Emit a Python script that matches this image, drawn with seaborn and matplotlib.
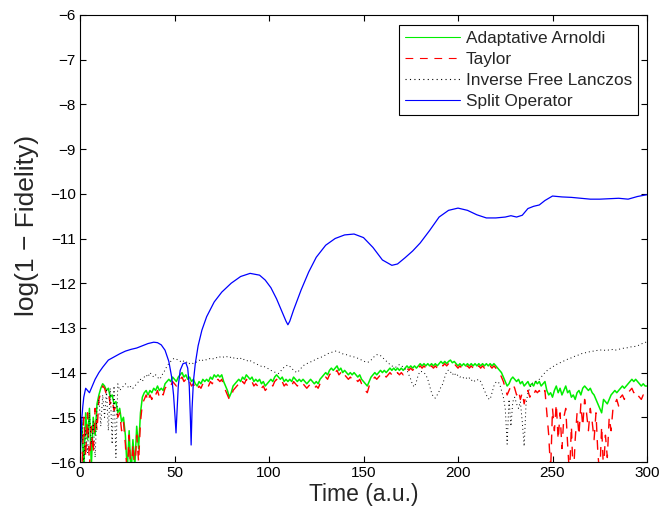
import numpy as np
import matplotlib
matplotlib.use("Agg")
import matplotlib.pyplot as plt
import seaborn as sns

# ---------------- data ----------------
time_grid = list(range(0, 301))

arnoldi = [
    -15.8, -15.1, -16.2, -14.9, -15.5, -14.8, -16.1, -15.0, -15.4, -14.7,
    -14.5, -14.35, -14.25, -14.3, -14.4, -14.35, -14.55, -14.5, -14.7, -14.65,
    -14.9, -14.8, -15.1, -15.0, -15.4, -16.2, -15.3, -16.3, -15.5, -16.1,
    -15.2, -15.7, -14.9, -14.55, -14.45, -14.4, -14.5, -14.4, -14.45, -14.35,
    -14.4, -14.3, -14.4, -14.35, -14.4, -14.25, -14.2, -14.15, -14.2, -14.1,
    -14.15, -14.2, -14.1, -14.05, -14.0, -14.1, -14.05, -14.15, -14.1, -14.2,
    -14.15, -14.25, -14.3, -14.2, -14.25, -14.15, -14.2, -14.15, -14.2, -14.1,
    -14.15, -14.05, -14.1, -14.05, -14.1, -14.05, -14.2, -14.3, -14.4, -14.55,
    -14.45, -14.3, -14.25, -14.2, -14.15, -14.2, -14.1, -14.15, -14.05, -14.1,
    -14.15, -14.1, -14.2, -14.15, -14.2, -14.15, -14.25, -14.2, -14.3, -14.25,
    -14.2, -14.15, -14.2, -14.1, -14.05, -14.1, -14.15, -14.1, -14.2, -14.15,
    -14.2, -14.15, -14.2, -14.1, -14.15, -14.2, -14.15, -14.2, -14.15, -14.2,
    -14.25, -14.2, -14.15, -14.2, -14.25, -14.2, -14.25, -14.15, -14.1, -14.05,
    -14.0, -14.05, -13.95, -13.9, -13.95, -13.9, -13.85, -13.95, -13.9, -14.0,
    -13.95, -14.0, -14.05, -14.0, -14.05, -14.0, -14.05, -14.1, -14.05, -14.15,
    -14.2, -14.25, -14.3, -14.2, -14.1, -14.05, -14.0, -14.05, -14.0, -13.95,
    -14.0, -13.95, -14.0, -13.95, -13.9, -13.95, -13.9, -13.95, -13.9, -13.95,
    -13.9, -13.95, -13.9, -13.85, -13.9, -13.85, -13.9, -13.85, -13.9, -13.85,
    -13.8, -13.85, -13.8, -13.85, -13.8, -13.85, -13.8, -13.85, -13.8, -13.85,
    -13.8, -13.75, -13.8, -13.75, -13.8, -13.75, -13.72, -13.78, -13.75, -13.8,
    -13.85, -13.8, -13.85, -13.8, -13.85, -13.8, -13.85, -13.8, -13.85, -13.8,
    -13.85, -13.8, -13.85, -13.8, -13.85, -13.8, -13.85, -13.8, -13.85, -13.8,
    -13.85, -13.9, -13.95, -14.0, -14.1, -14.2, -14.3, -14.25, -14.15, -14.1,
    -14.15, -14.2, -14.15, -14.25, -14.2, -14.3, -14.25, -14.2, -14.3, -14.25,
    -14.3, -14.2, -14.25, -14.2, -14.3, -14.25, -14.2, -14.4, -14.5, -14.45,
    -14.55, -14.4, -14.3, -14.45, -14.35, -14.5, -14.4, -14.3, -14.45, -14.4,
    -14.55, -14.5, -14.6, -14.45, -14.4, -14.5, -14.35, -14.3, -14.35, -14.4,
    -14.35, -14.45, -14.5, -14.6, -14.7, -14.8, -14.9, -14.6, -14.65, -14.7,
    -14.6, -14.5, -14.45, -14.4, -14.45, -14.4, -14.35, -14.3, -14.35, -14.3,
    -14.25, -14.2, -14.15, -14.2, -14.15, -14.2, -14.25, -14.3, -14.25, -14.3,
    -14.3,
]

taylor = [
    -15.6, -16.2, -15.0, -15.9, -14.9, -16.1, -15.2, -15.8, -14.8, -15.3,
    -14.6, -14.45, -14.3, -14.35, -14.5, -14.45, -14.7, -14.6, -14.85, -14.75,
    -15.0, -14.9, -15.3, -15.1, -15.6, -16.3, -15.4, -16.4, -15.6, -16.2,
    -15.4, -16.0, -15.1, -14.7, -14.6, -14.5, -14.65, -14.5, -14.6, -14.45,
    -14.5, -14.4, -14.55, -14.45, -14.5, -14.35, -14.3, -14.25, -14.3, -14.2,
    -14.25, -14.3, -14.2, -14.15, -14.1, -14.2, -14.15, -14.25, -14.2, -14.3,
    -14.25, -14.35, -14.4, -14.3, -14.35, -14.25, -14.3, -14.25, -14.3, -14.2,
    -14.25, -14.15, -14.2, -14.15, -14.2, -14.15, -14.3, -14.4, -14.5, -14.6,
    -14.55, -14.4, -14.35, -14.3, -14.25, -14.3, -14.2, -14.25, -14.15, -14.2,
    -14.25, -14.2, -14.3, -14.25, -14.3, -14.25, -14.35, -14.3, -14.4, -14.35,
    -14.3, -14.25, -14.3, -14.2, -14.15, -14.2, -14.25, -14.2, -14.3, -14.25,
    -14.3, -14.25, -14.3, -14.2, -14.25, -14.3, -14.25, -14.3, -14.25, -14.3,
    -14.35, -14.3, -14.25, -14.3, -14.35, -14.3, -14.35, -14.25, -14.2, -14.15,
    -14.1, -14.15, -14.05, -14.0, -14.05, -14.0, -13.95, -14.05, -14.0, -14.1,
    -14.05, -14.1, -14.15, -14.1, -14.15, -14.1, -14.15, -14.2, -14.15, -14.25,
    -14.3, -14.4, -14.45, -14.3, -14.2, -14.15, -14.1, -14.15, -14.1, -14.05,
    -14.1, -14.05, -14.1, -14.05, -14.0, -14.05, -14.0, -14.05, -14.0, -14.05,
    -14.0, -14.05, -13.95, -13.9, -13.95, -13.9, -13.95, -13.9, -13.95, -13.9,
    -13.85, -13.9, -13.85, -13.9, -13.85, -13.9, -13.85, -13.9, -13.85, -13.9,
    -13.85, -13.8, -13.85, -13.8, -13.85, -13.8, -13.77, -13.82, -13.8, -13.85,
    -13.9, -13.85, -13.9, -13.85, -13.9, -13.85, -13.9, -13.85, -13.9, -13.85,
    -13.9, -13.85, -13.9, -13.85, -13.9, -13.85, -13.9, -13.85, -13.9, -13.85,
    -13.9, -13.95, -14.0, -14.1, -14.2, -14.35, -14.5, -14.4, -14.3, -14.25,
    -14.35, -14.5, -14.4, -14.6, -14.45, -14.7, -14.5, -14.4, -14.55, -14.45,
    -14.5, -14.4, -14.45, -14.4, -14.5, -14.45, -14.4, -14.9, -15.4, -16.2,
    -14.8, -15.3, -14.7, -15.5, -14.9, -15.7, -15.0, -14.8, -15.6, -16.3,
    -15.2, -16.4, -15.5, -14.9, -15.4, -14.7, -15.2, -14.6, -14.9, -15.3,
    -14.8, -15.1, -15.5, -14.9, -15.8, -16.3, -15.2, -16.2, -15.4, -15.9,
    -15.0, -15.3, -14.8, -14.7, -14.6, -14.75, -14.55, -14.5, -14.6, -14.5,
    -14.45, -14.4, -14.35, -14.45, -14.4, -14.5, -14.55, -14.6, -14.5, -14.55,
    -14.5,
]

lanczos = [
    -15.9, -15.0, -16.1, -15.3, -15.8, -14.9, -15.6, -15.1, -15.9, -14.8,
    -14.6, -15.2, -14.5, -15.0, -14.4, -15.3, -14.35, -15.6, -14.3, -15.9,
    -14.25, -14.4, -14.35, -14.3, -14.25, -14.3, -14.35, -14.3, -14.35, -14.3,
    -14.25, -14.2, -14.15, -14.2, -14.1, -14.05, -14.1, -14.0, -14.05, -14.1,
    -14.05, -14.1, -14.15, -14.1, -14.0, -13.95, -13.85, -13.8, -13.75, -13.7,
    -13.68, -13.7, -13.72, -13.75, -13.72, -13.75, -13.78, -13.75, -13.8, -13.78,
    -13.8, -13.78, -13.75, -13.72, -13.75, -13.72, -13.7, -13.72, -13.7, -13.68,
    -13.7, -13.68, -13.66, -13.68, -13.65, -13.67, -13.65, -13.63, -13.65, -13.67,
    -13.65, -13.68, -13.66, -13.68, -13.7, -13.68, -13.72, -13.7, -13.72, -13.75,
    -13.73, -13.76, -13.78, -13.8, -13.82, -13.84, -13.86, -13.85, -13.88, -13.9,
    -13.92, -13.95, -13.97, -13.99, -14.0, -14.02, -13.98, -13.92, -13.88, -13.85,
    -13.83, -13.86, -13.9, -13.95, -13.98, -14.0, -13.95, -13.9, -13.85, -13.82,
    -13.8, -13.78, -13.76, -13.75, -13.72, -13.7, -13.68, -13.66, -13.65, -13.63,
    -13.6, -13.58, -13.56, -13.55, -13.53, -13.52, -13.52, -13.54, -13.56, -13.58,
    -13.6, -13.6, -13.62, -13.63, -13.64, -13.65, -13.66, -13.68, -13.7, -13.72,
    -13.74, -13.76, -13.77, -13.76, -13.72, -13.67, -13.63, -13.6, -13.6, -13.62,
    -13.66, -13.7, -13.74, -13.78, -13.82, -13.85, -13.87, -13.88, -13.85, -13.82,
    -13.84, -13.88, -13.92, -13.94, -14.05, -14.15, -14.28, -14.32, -14.2, -14.05,
    -13.97, -13.98, -14.0, -14.05, -14.15, -14.3, -14.45, -14.55, -14.57, -14.5,
    -14.42, -14.32, -14.25, -14.1, -13.98, -13.94, -13.98, -14.05, -14.0, -14.08,
    -14.05, -14.1, -14.08, -14.12, -14.1, -14.15, -14.12, -14.18, -14.15, -14.2,
    -14.17, -14.15, -14.2, -14.3, -14.4, -14.5, -14.58, -14.6, -14.45, -14.3,
    -14.22, -14.2, -14.25, -14.4, -14.55, -14.8, -15.6, -14.6, -15.2, -14.65,
    -14.55, -14.7, -14.8, -14.65, -15.1, -15.65, -14.7, -14.45, -14.35, -14.25,
    -14.22, -14.2, -14.18, -14.15, -14.1, -14.05, -14.0, -13.96, -13.92, -13.9,
    -13.87, -13.85, -13.82, -13.8, -13.78, -13.76, -13.74, -13.72, -13.7, -13.68,
    -13.67, -13.65, -13.63, -13.62, -13.6, -13.58, -13.57, -13.56, -13.55, -13.54,
    -13.53, -13.52, -13.52, -13.51, -13.5, -13.5, -13.49, -13.5, -13.5, -13.49,
    -13.5, -13.49, -13.48, -13.5, -13.49, -13.48, -13.47, -13.46, -13.45, -13.45,
    -13.44, -13.43, -13.42, -13.42, -13.41, -13.4, -13.38, -13.36, -13.34, -13.33,
    -13.3,
]

split_time = [
    0, 0.5, 1, 1.5, 2, 3, 4, 5, 6, 8, 10, 12, 15, 18, 21, 24, 27, 30, 33, 36,
    39, 41, 43, 45, 47, 48.5, 49.5, 50.3, 50.8, 51.3, 52, 53, 54.5, 56, 57,
    57.8, 58.4, 58.8, 59.3, 60, 61, 62.5, 64.5, 67, 71, 75, 80, 85, 90, 95,
    98, 101, 104, 107, 109, 110, 111, 113, 117, 121, 125, 130, 135, 140, 145,
    150, 155, 160, 165, 168, 172, 176, 180, 185, 190, 195, 200, 205, 210, 215,
    220, 225, 228, 231, 234, 237, 240, 243, 246, 250, 255, 260, 265, 270, 275,
    280, 285, 290, 295, 300,
]
split_operator = [
    -16.0, -15.5, -15.0, -14.75, -14.55, -14.35, -14.4, -14.45, -14.35, -14.15,
    -14.0, -13.88, -13.72, -13.65, -13.58, -13.52, -13.48, -13.45, -13.4, -13.35,
    -13.32, -13.33, -13.38, -13.5, -13.75, -14.1, -14.5, -15.0, -15.35, -14.9,
    -14.3, -13.95, -13.8, -13.78, -13.9, -14.3, -15.0, -15.62, -14.8, -14.2,
    -13.8, -13.4, -13.05, -12.75, -12.42, -12.2, -12.0, -11.85, -11.78, -11.82,
    -11.93, -12.1, -12.35, -12.65, -12.85, -12.93, -12.85, -12.6, -12.15, -11.75,
    -11.42, -11.15, -11.0, -10.92, -10.9, -10.98, -11.2, -11.48, -11.6, -11.57,
    -11.43, -11.28, -11.1, -10.82, -10.52, -10.37, -10.32, -10.37, -10.47, -10.54,
    -10.54, -10.52, -10.49, -10.52, -10.48, -10.33, -10.28, -10.25, -10.15, -10.05,
    -10.07, -10.08, -10.1, -10.12, -10.12, -10.11, -10.1, -10.12, -10.06, -10.02,
]

labels = ["Adaptative Arnoldi", "Taylor", "Inverse Free Lanczos", "Split Operator"]
x_ticks = [0, 50, 100, 150, 200, 250, 300]
y_ticks = list(range(-16, -5))

# ---------------- style ----------------
sns.set_style("ticks")
plt.rcParams["font.family"] = ["Liberation Sans", "DejaVu Sans"]
plt.rcParams["axes.unicode_minus"] = True

fig = plt.figure(figsize=(6.62, 5.17), dpi=100)
ax = fig.add_axes([80 / 662, 1 - 462 / 517, 567 / 662, 447 / 517])

sns.lineplot(x=time_grid, y=arnoldi, ax=ax, color="#00ee00", lw=1.1,
             label=labels[0], estimator=None, sort=False)
sns.lineplot(x=time_grid, y=taylor, ax=ax, color="#ff0000", lw=1.0,
             label=labels[1], estimator=None, sort=False, linestyle=(0, (7, 6)))
sns.lineplot(x=time_grid, y=lanczos, ax=ax, color="black", lw=0.7,
             label=labels[2], estimator=None, sort=False, linestyle=(0, (1, 3)))
sns.lineplot(x=split_time, y=split_operator, ax=ax, color="#0000ff", lw=0.9,
             label=labels[3], estimator=None, sort=False)

ax.set_xlim(0, 300)
ax.set_ylim(-16, -6)
ax.set_xticks(x_ticks)
ax.set_yticks(y_ticks)
ax.tick_params(direction="in", length=4, width=0.8, top=True, right=True,
               labelsize=11, colors="black", pad=3)
for s in ax.spines.values():
    s.set_visible(True)
    s.set_color("black")
    s.set_linewidth(0.8)

ax.set_xlabel("Time (a.u.)", fontsize=16.5, labelpad=2)
ax.set_ylabel("log(1 \u2212 Fidelity)", fontsize=19)
ax.yaxis.set_label_coords(-0.072, 0.53)

leg = ax.legend(loc="upper right", bbox_to_anchor=(0.984, 0.978),
                borderaxespad=0, fontsize=12.4, handlelength=3.2,
                handletextpad=0.35, labelspacing=0.36, borderpad=0.33,
                frameon=True, fancybox=False, framealpha=1, edgecolor="black")
leg.get_frame().set_linewidth(0.8)
for line in leg.get_lines():
    line.set_linewidth(0.8)

fig.savefig("out.png", dpi=100)
